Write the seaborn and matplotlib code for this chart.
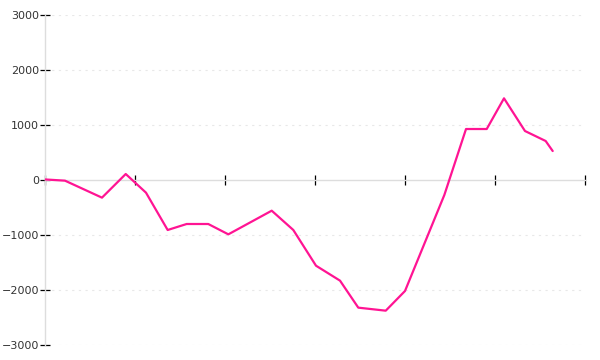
import matplotlib
matplotlib.use("Agg")
import matplotlib.pyplot as plt
import seaborn as sns
import pandas as pd

# Data (x in axis-tick units, y values)
x_period = [0.0, 0.222, 0.633, 0.897, 1.122, 1.363, 1.574, 1.814, 2.037,
            2.519, 2.759, 3.011, 3.278, 3.481, 3.786, 4.0, 4.437, 4.678,
            4.908, 5.1, 5.333, 5.563, 5.641]
y_value = [10, -12, -321, 109, -230, -909, -800, -800, -988,
           -558, -909, -1558, -1830, -2321, -2376, -2018, -273, 927,
           927, 1485, 891, 709, 527]
x_ticks = [0, 1, 2, 3, 4, 5, 6]
y_ticks = [-3000, -2000, -1000, 0, 1000, 2000, 3000]

sns.set_style("white")
plt.rcParams['font.family'] = ['DejaVu Sans']

df = pd.DataFrame({"x": x_period, "y": y_value})

fig = plt.figure(figsize=(6, 3.6), dpi=100)
ax = fig.add_axes([45/600, 1-345/360, 540/600, 330/360])

sns.lineplot(data=df, x="x", y="y", ax=ax, color="#ff1493", linewidth=1.6,
             sort=False, estimator=None, zorder=2)

ax.set_xlim(0, 6)
ax.set_ylim(-3000, 3000)
ax.set_xticks(x_ticks)
ax.set_xticklabels([])
ax.set_yticks(y_ticks)
ax.set_yticklabels([str(v).replace("-", "\u2212") for v in y_ticks])
ax.set_xlabel("")
ax.set_ylabel("")

for v in y_ticks:
    if v != 0:
        ax.axhline(v, color="#e8e8e8", linewidth=0.8, linestyle=(0, (2, 4)), zorder=0)

ax.spines['top'].set_visible(False)
ax.spines['right'].set_visible(False)
ax.spines['bottom'].set_position(('data', 0))
for side in ('bottom', 'left'):
    ax.spines[side].set_color("#dddddd")
    ax.spines[side].set_linewidth(1.0)
    ax.spines[side].set_zorder(1)

ax.tick_params(axis='both', which='major', bottom=True, left=True,
               direction='inout', length=6.5, width=0.9, color="black",
               labelsize=8, labelcolor="#333333")
ax.tick_params(axis='y', pad=1)

fig.savefig("out.png", dpi=100)
